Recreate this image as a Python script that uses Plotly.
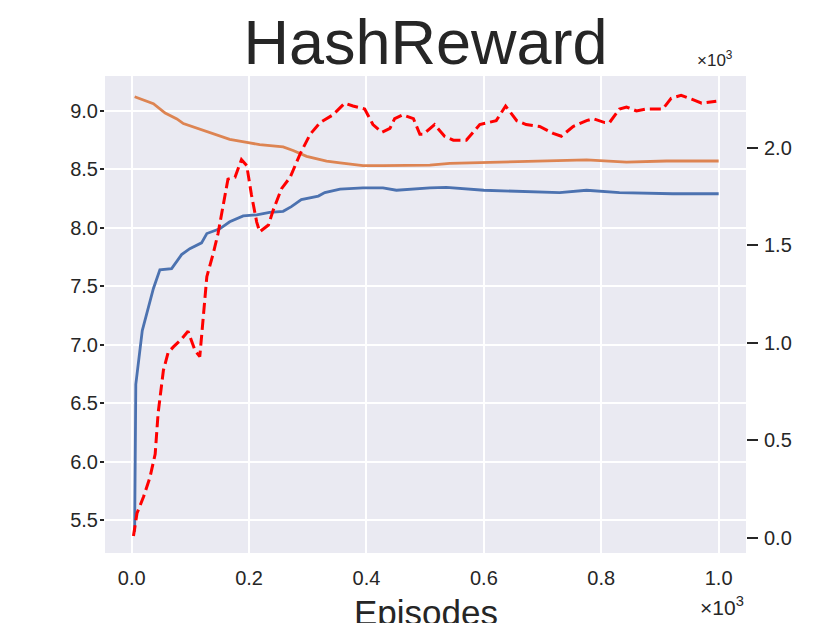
import plotly.graph_objects as go

# ---------------- data (episodes; right axis in raw units, shown x10^3) ----------------
reward_x = [5, 7, 18, 27, 37, 48, 68, 85, 99, 119, 128, 150, 167, 190, 213, 235, 258, 272,
            289, 318, 329, 355, 394, 428, 451, 508, 536, 600, 673, 729, 775, 831, 922, 1000]
reward_y = [5.40, 6.66, 7.12, 7.28, 7.48, 7.64, 7.65, 7.77, 7.82, 7.87, 7.95, 7.99, 8.05, 8.10,
            8.11, 8.13, 8.14, 8.18, 8.24, 8.27, 8.30, 8.33, 8.34, 8.34, 8.32, 8.34, 8.345, 8.32,
            8.31, 8.30, 8.32, 8.30, 8.29, 8.29]

second_x = [5, 37, 57, 77, 88, 116, 145, 167, 196, 218, 258, 275, 298, 332, 355, 394, 428, 457,
            508, 542, 627, 775, 843, 911, 1000]
second_y = [9.12, 9.06, 8.98, 8.93, 8.89, 8.84, 8.79, 8.755, 8.73, 8.71, 8.69, 8.66, 8.61, 8.57,
            8.555, 8.53, 8.53, 8.53, 8.535, 8.55, 8.56, 8.58, 8.56, 8.57, 8.57]

hash_x = [3, 9, 20, 31, 40, 45, 54, 62, 71, 85, 96, 108, 116, 125, 128, 139, 147, 164, 176, 187,
          196, 204, 213, 218, 233, 241, 255, 270, 287, 304, 321, 343, 363, 377, 397, 411, 426, 440,
          448, 462, 480, 491, 497, 516, 533, 548, 562, 570, 593, 610, 621, 637, 656, 672, 695, 718,
          732, 752, 775, 786, 806, 814, 831, 843, 860, 877, 905, 919, 936, 954, 971, 996]
hash_y = [10, 127, 210, 310, 430, 640, 860, 950, 980, 1020, 1060, 960, 930, 1220, 1340, 1460, 1560,
          1840, 1850, 1940, 1910, 1760, 1620, 1570, 1605, 1680, 1790, 1850, 1970, 2070, 2130, 2170,
          2230, 2215, 2200, 2120, 2080, 2100, 2150, 2170, 2150, 2070, 2070, 2120, 2060, 2040, 2040,
          2040, 2120, 2130, 2140, 2215, 2140, 2120, 2110, 2075, 2060, 2110, 2140, 2150, 2130, 2130,
          2200, 2210, 2190, 2200, 2200, 2255, 2270, 2250, 2230, 2240]

x_ticks = [0, 200, 400, 600, 800, 1000]
x_ticktext = ["0.0", "0.2", "0.4", "0.6", "0.8", "1.0"]
left_ticks = [5.5, 6.0, 6.5, 7.0, 7.5, 8.0, 8.5, 9.0]
left_ticktext = ["5.5", "6.0", "6.5", "7.0", "7.5", "8.0", "8.5", "9.0"]
right_ticks = [0, 500, 1000, 1500, 2000]
right_ticktext = ["0.0", "0.5", "1.0", "1.5", "2.0"]

FONT = "Liberation Sans, Arial, sans-serif"
TXT = "#262626"
TICK = 20

fig = go.Figure()
fig.add_trace(go.Scatter(x=reward_x, y=reward_y, mode="lines",
                         line=dict(color="#4C72B0", width=2.8), showlegend=False))
fig.add_trace(go.Scatter(x=second_x, y=second_y, mode="lines",
                         line=dict(color="#DD8452", width=2.8), showlegend=False))
fig.add_trace(go.Scatter(x=hash_x, y=hash_y, mode="lines", yaxis="y2",
                         line=dict(color="#FF0000", width=3, dash="11px,5px"), showlegend=False))

fig.update_layout(
    width=830, height=623,
    margin=dict(l=97, r=92, t=68, b=78),
    paper_bgcolor="white", plot_bgcolor="#EAEAF2",
    font=dict(family=FONT, color=TXT, size=TICK),
    title=dict(text="HashReward", x=0.5, xref="paper", xanchor="center",
               y=0.945, yref="container", yanchor="middle",
               font=dict(size=63, color=TXT, family=FONT)),
    xaxis=dict(range=[-45.5, 1046.6], tickvals=x_ticks, ticktext=x_ticktext,
               showgrid=True, gridcolor="white", gridwidth=2, zeroline=False,
               showline=False, ticks="", ticklabelstandoff=11,
               tickfont=dict(size=TICK, color=TXT)),
    yaxis=dict(range=[5.218, 9.297], tickvals=left_ticks, ticktext=left_ticktext,
               showgrid=True, gridcolor="white", gridwidth=2, zeroline=False,
               showline=False, ticks="outside", ticklen=4, tickwidth=2, tickcolor=TXT,
               ticklabelstandoff=-2, tickfont=dict(size=TICK, color=TXT)),
    yaxis2=dict(range=[-77, 2369], tickvals=right_ticks, ticktext=right_ticktext,
                overlaying="y", side="right", showgrid=False, zeroline=False,
                showline=False, ticks="outside", ticklen=11, tickwidth=2, tickcolor=TXT,
                ticklabelstandoff=2, tickfont=dict(size=TICK, color=TXT)),
    annotations=[
        dict(text="Episodes", xref="paper", yref="paper", x=0.5, y=-0.124,
             xanchor="center", yanchor="middle", showarrow=False,
             font=dict(size=35, color=TXT, family=FONT)),
        dict(text="×10<sup>3</sup>", xref="paper", yref="paper", x=0.983, y=1.036,
             xanchor="right", yanchor="middle", showarrow=False,
             font=dict(size=17, color=TXT, family=FONT)),
        dict(text="×10<sup>3</sup>", xref="paper", yref="paper", x=1.0, y=-0.111,
             xanchor="right", yanchor="middle", showarrow=False,
             font=dict(size=21, color=TXT, family=FONT)),
    ],
)

fig.write_html("out.html")
